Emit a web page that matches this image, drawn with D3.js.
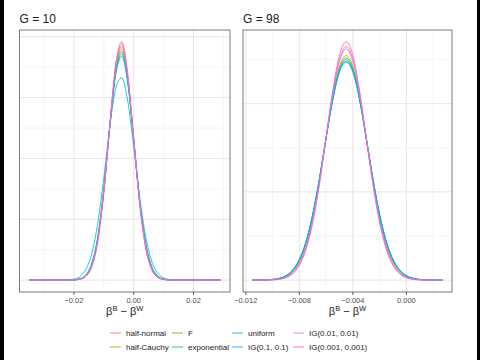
<!DOCTYPE html>
<html><head><meta charset="utf-8">
<script src="https://cdn.jsdelivr.net/npm/d3@7"></script>
<style>body{margin:0;background:#fff}svg{display:block}text{font-family:"Liberation Sans",Arial,sans-serif}</style>
</head><body><svg id="c" width="480" height="360"></svg>
<script>
const seriesNames = ["half-normal","half-Cauchy","F","exponential","uniform","IG(0.1, 0.1)","IG(0.01, 0.01)","IG(0.001, 0.001)"];
const seriesColors = ["#F8766D","#CD9600","#7CAE00","#00BE67","#00BFC4","#00A9FF","#C77CFF","#FF61CC"];
const panelTitles = ["G = 10","G = 98"];

// G = 10 panel
const xG10 = [-0.035,-0.022,-0.020,-0.018,-0.016,-0.014,-0.012,-0.010,-0.008,-0.006,-0.004,-0.002,0.000,0.002,0.004,0.006,0.008,0.010,0.012,0.014,0.029];
const g10HalfNormal = [0,0.0,0.06,0.33,1.55,5.6,16.1,36.3,63.7,89.0,97.9,84.9,58.0,31.3,13.2,4.4,1.17,0.25,0.04,0.0,0];
const g10HalfCauchy = [0,0.01,0.08,0.43,1.83,6.3,16.9,36.6,63.1,86.6,94.9,82.8,57.7,32.0,14.2,5.0,1.4,0.31,0.06,0.01,0];
const g10F = [0,0.01,0.09,0.46,1.9,6.5,17.2,36.9,63.2,86.0,93.9,82.2,57.7,32.3,14.5,5.2,1.5,0.34,0.07,0.01,0];
const g10Exponential = [0,0.02,0.12,0.55,2.2,7.0,18.1,37.6,63.2,84.6,91.9,81.0,57.6,33.0,15.3,5.7,1.75,0.42,0.09,0.02,0];
const g10Uniform = [0,0.1,0.41,1.45,4.4,11.1,23.6,42.0,62.9,78.9,83.2,73.6,54.7,34.1,17.8,7.8,2.9,0.9,0.23,0.05,0];
const g10IG01 = [0,0.01,0.1,0.5,2.0,6.7,17.6,37.2,63.2,85.4,92.9,81.6,57.6,32.6,14.8,5.4,1.6,0.37,0.08,0.01,0];
const g10IG001 = [0,0.01,0.08,0.43,1.85,6.4,17.1,37.0,63.8,87.5,95.9,83.7,58.3,32.3,14.3,5.05,1.4,0.31,0.06,0.01,0];
const g10IG0001 = [0,0.0,0.06,0.33,1.55,5.6,16.0,36.0,63.2,88.2,97.0,84.2,57.6,31.2,13.2,4.4,1.2,0.25,0.04,0.0,0];
const xTicksG10 = [-0.02,0,0.02];
const xTickLabelsG10 = ["\u22120.02","0.00","0.02"];
const xMinorG10 = [-0.03,-0.01,0.01,0.03];
const yMajorG10 = [0,25,50,75,100];
const yMinorG10 = [12.5,37.5,62.5,87.5];

// G = 98 panel
const xG98 = [-0.0115,-0.011,-0.0105,-0.010,-0.0095,-0.009,-0.0085,-0.008,-0.0075,-0.007,-0.0065,-0.006,-0.0055,-0.005,-0.0045,-0.004,-0.0035,-0.003,-0.0025,-0.002,-0.0015,-0.001,-0.0005,0,0.0005,0.001,0.0015,0.002,0.0025,0.0027];
const g98HalfNormal = [0,0.03,0.1,0.36,1.1,3.1,8.0,18.1,36.8,67.1,109.9,161.4,212.4,250.4,264.5,250.4,212.4,161.4,109.9,67.1,36.8,18.1,8.0,3.1,1.1,0.36,0.1,0.03,0,0];
const g98HalfCauchy = [0.01,0.05,0.18,0.57,1.6,4.2,10,21.3,41,71.6,113,161.1,207.7,241.9,254.5,241.9,207.7,161.1,113,71.6,41,21.3,10,4.2,1.6,0.57,0.18,0.05,0.01,0];
const g98F = [0.01,0.06,0.2,0.63,1.75,4.5,10.5,22.1,42,72.7,113.8,161,206.5,239.5,252,239.5,206.5,161,113.8,72.7,42,22.1,10.5,4.5,1.75,0.63,0.2,0.06,0.01,0];
const g98Exponential = [0.02,0.08,0.25,0.75,2,5,11.3,23.4,43.8,74.5,115,161,204.5,236,247,236,204.5,161,115,74.5,43.8,23.4,11.3,5,2,0.75,0.25,0.08,0.02,0];
const g98Uniform = [0.02,0.07,0.23,0.72,1.95,4.9,11.2,23.1,43.4,74.2,114.8,161,205,236.8,248,236.8,205,161,114.8,74.2,43.4,23.1,11.2,4.9,1.95,0.72,0.23,0.07,0.02,0];
const g98IG01 = [0.02,0.07,0.22,0.7,1.9,4.8,11.0,22.9,43,73.8,114.5,161,205.6,238,250,238,205.6,161,114.5,73.8,43,22.9,11.0,4.8,1.9,0.7,0.22,0.07,0.02,0];
const g98IG001 = [0,0.03,0.12,0.4,1.2,3.4,8.6,19,38,68.5,111,161.3,211,247.5,262,247.5,211,161.3,111,68.5,38,19,8.6,3.4,1.2,0.4,0.12,0.03,0,0];
const g98IG0001 = [0,0.02,0.08,0.27,0.9,2.6,7.0,16.5,34.6,64.8,108.3,161.5,214.9,255,270,255,214.9,161.5,108.3,64.8,34.6,16.5,7.0,2.6,0.9,0.27,0.08,0.02,0,0];
const xTicksG98 = [-0.012,-0.008,-0.004,0];
const xTickLabelsG98 = ["\u22120.012","\u22120.008","\u22120.004","0.000"];
const xMinorG98 = [-0.010,-0.006,-0.002,0.002];
const yMajorG98 = [0,100,200];
const yMinorG98 = [50,150,250];

const panels = [
  {title: panelTitles[0], x: xG10, ys: [g10HalfNormal,g10HalfCauchy,g10F,g10Exponential,g10Uniform,g10IG01,g10IG001,g10IG0001],
   xt: xTicksG10, xtl: xTickLabelsG10, xm: xMinorG10, ymaj: yMajorG10, ymin: yMinorG10, left: 19.5, right: 230},
  {title: panelTitles[1], x: xG98, ys: [g98HalfNormal,g98HalfCauchy,g98F,g98Exponential,g98Uniform,g98IG01,g98IG001,g98IG0001],
   xt: xTicksG98, xtl: xTickLabelsG98, xm: xMinorG98, ymaj: yMajorG98, ymin: yMinorG98, left: 243, right: 452}
];
const panelTop = 30, panelBottom = 292;

const svg = d3.select("#c");
svg.append("rect").attr("width",480).attr("height",360).attr("fill","#fff");

panels.forEach(p => {
  const g = svg.append("g");
  const xe = d3.extent(p.x), xr = xe[1]-xe[0];
  const x = d3.scaleLinear().domain([xe[0]-0.05*xr, xe[1]+0.05*xr]).range([p.left, p.right]);
  const ymax = d3.max(p.ys, s => d3.max(s));
  const y = d3.scaleLinear().domain([-0.05*ymax, ymax*1.05]).range([panelBottom, panelTop]);

  g.selectAll(null).data(p.xm).join("line")
    .attr("x1", d=>x(d)).attr("x2", d=>x(d)).attr("y1", panelTop).attr("y2", panelBottom)
    .attr("stroke","#efefef").attr("stroke-width",0.6);
  g.selectAll(null).data(p.ymin).join("line")
    .attr("y1", d=>y(d)).attr("y2", d=>y(d)).attr("x1", p.left).attr("x2", p.right)
    .attr("stroke","#efefef").attr("stroke-width",0.6);
  g.selectAll(null).data(p.xt).join("line")
    .attr("x1", d=>x(d)).attr("x2", d=>x(d)).attr("y1", panelTop).attr("y2", panelBottom)
    .attr("stroke","#e6e6e6").attr("stroke-width",1);
  g.selectAll(null).data(p.ymaj).join("line")
    .attr("y1", d=>y(d)).attr("y2", d=>y(d)).attr("x1", p.left).attr("x2", p.right)
    .attr("stroke","#e6e6e6").attr("stroke-width",1);

  const line = d3.line().x((d,i)=>x(p.x[i])).y(d=>y(d)).curve(d3.curveMonotoneX);
  p.ys.forEach((s,k) => {
    g.append("path").attr("d", line(s)).attr("fill","none")
      .attr("stroke", seriesColors[k]).attr("stroke-width",1).attr("stroke-opacity",0.85);
  });

  g.append("rect").attr("x",p.left).attr("y",panelTop).attr("width",p.right-p.left).attr("height",panelBottom-panelTop)
    .attr("fill","none").attr("stroke","#6e6e6e").attr("stroke-width",0.9);

  g.selectAll(null).data(p.xt).join("line")
    .attr("x1", d=>x(d)).attr("x2", d=>x(d)).attr("y1", panelBottom).attr("y2", panelBottom+3)
    .attr("stroke","#333").attr("stroke-width",0.8);
  g.selectAll(null).data(p.xt).join("text")
    .attr("x", d=>x(d)).attr("y", panelBottom+11).attr("text-anchor","middle")
    .attr("font-size",7.5).attr("fill","#4d4d4d").text((d,i)=>p.xtl[i]);

  g.append("text").attr("x", p.left).attr("y", 22.5).attr("font-size",12).attr("fill","#1a1a1a").text(p.title);

  const cx = (p.left+p.right)/2;
  const t = g.append("text").attr("x", cx).attr("y", 315).attr("text-anchor","middle").attr("font-size",11).attr("fill","#1a1a1a");
  t.append("tspan").text("\u03B2");
  t.append("tspan").attr("font-size",7.5).attr("dy",-4.5).text("B");
  t.append("tspan").attr("dy",4.5).text(" \u2212 \u03B2");
  t.append("tspan").attr("font-size",7.5).attr("dy",-4.5).text("W");
});

const legCols = [110, 172, 232, 293];
const legRows = [333, 347];
const leg = svg.append("g");
seriesNames.forEach((name,i) => {
  const col = Math.floor(i/2), row = i%2;
  const lx = legCols[col], ly = legRows[row];
  leg.append("line").attr("x1",lx).attr("x2",lx+11).attr("y1",ly).attr("y2",ly)
    .attr("stroke",seriesColors[i]).attr("stroke-width",1).attr("stroke-opacity",0.85);
  leg.append("text").attr("x",lx+16).attr("y",ly+2.8).attr("font-size",8).attr("fill","#1a1a1a").text(name);
});

svg.append("rect").attr("x",0).attr("y",0).attr("width",4).attr("height",360).attr("fill","#000");
svg.append("rect").attr("x",477).attr("y",0).attr("width",3).attr("height",360).attr("fill","#000");
</script></body></html>
